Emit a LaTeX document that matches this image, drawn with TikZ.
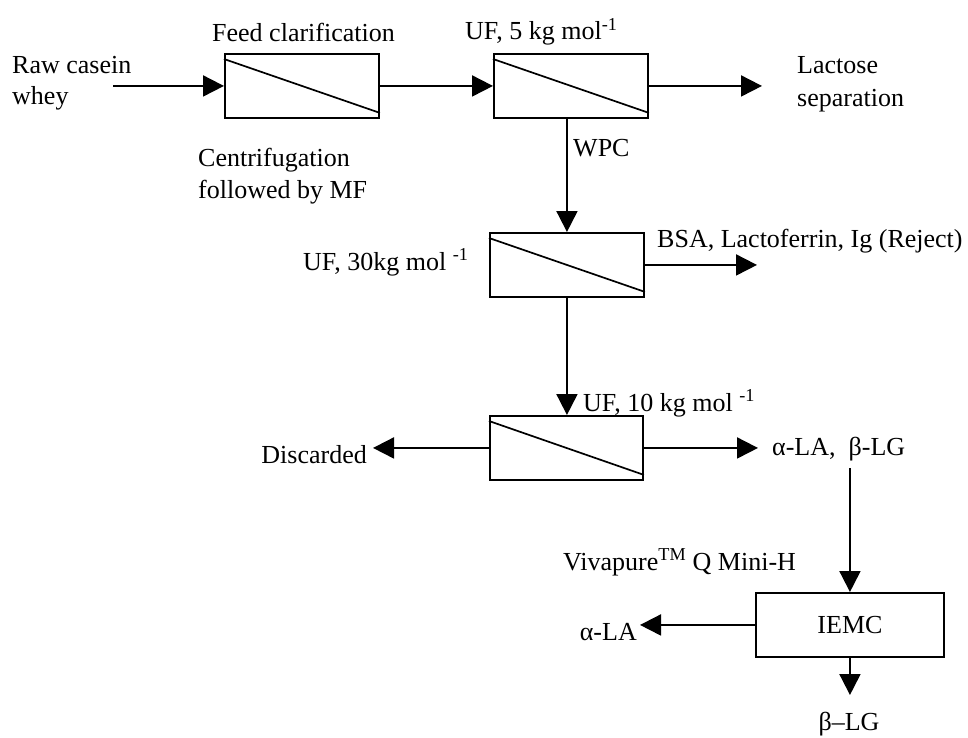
\documentclass[tikz,border=0pt]{standalone}
\usepackage{fontspec}
\setmainfont{Liberation Serif}
\usetikzlibrary{arrows.meta}
\begin{document}
\begin{tikzpicture}[x=1pt,y=-1pt,
  lbl/.style={inner sep=0pt, font=\fontsize{26}{31}\selectfont},
  unit/.style={draw, line width=1.9pt, minimum width=154pt, minimum height=64pt, inner sep=0pt, anchor=north west},
  diag/.style={line width=1.7pt},
  flow/.style={line width=1.9pt, -{Triangle[length=21pt,width=21pt]}},
  ]
\useasboundingbox[fill=white] (0,0) rectangle (968,738);

% units
\node[unit] (b1) at (224,53) {};
\node[unit] (b2) at (493,53) {};
\node[unit] (b3) at (489,232) {};
\node[unit, minimum width=153pt] (b4) at (489,415) {};
\node[unit, minimum width=188pt, font=\fontsize{26}{31}\selectfont] (iemc) at (755,592) {IEMC};

% membrane diagonals
\foreach \b in {b1,b2,b3,b4}
  \draw[diag] ([yshift=-6pt]\b.north west) -- ([yshift=6pt]\b.south east);

% labels
\node[lbl, anchor=base west] (raw1) at (12,74) {Raw casein};
\node[lbl, anchor=base west] (raw2) at (12,105) {whey};
\node[lbl, anchor=base west] (feed) at (212,42) {Feed clarification};
\node[lbl, anchor=base west] (cen1) at (198,167) {Centrifugation};
\node[lbl, anchor=base west] (cen2) at (198,198) {followed by MF};
\node[lbl, anchor=base west] (uf5) at (465,40) {UF, 5 kg mol\textsuperscript{-1}};
\node[lbl, anchor=base west] (lac1) at (797,74) {Lactose};
\node[lbl, anchor=base west] (lac2) at (797,107) {separation};
\node[lbl, anchor=base west] (wpc) at (573,157) {WPC};
\node[lbl, anchor=base west] (bsa) at (657,247) {BSA, Lactoferrin, Ig (Reject)};
\node[lbl, anchor=base west] (uf30) at (303,270) {UF, 30kg mol \textsuperscript{-1}};
\node[lbl, anchor=base west] (uf10) at (583,411) {UF, 10 kg mol \textsuperscript{-1}};
\node[lbl, anchor=base east] (disc) at (367,463) {Discarded};
\node[lbl, anchor=base west] (ab) at (772,455) {α-LA, \ β-LG};
\node[lbl, anchor=base west] (viva) at (563,570) {Vivapure\textsuperscript{TM} Q Mini-H};
\node[lbl, anchor=base east] (ala) at (637,640) {α-LA};
\node[lbl, anchor=base] (blg) at (849,730) {β–LG};

% free ends
\coordinate (in) at (113,86);
\coordinate (lacT) at (762,85);
\coordinate (bsaT) at (757,264);
\coordinate (discT) at (373,447);
\coordinate (abT) at (758,447);
\coordinate (abS) at (849,468);
\coordinate (alaT) at (640,624);
\coordinate (blgT) at (849,695);

% connectors
\draw[flow] (b1.west -| in) -- (b1.west);
\draw[flow] (b1.east) -- (b2.west);
\draw[flow] (b2.east) -- (b2.east -| lacT);
\draw[flow] (b2.south -| b3.north) -- (b3.north);
\draw[flow] (b3.east) -- (b3.east -| bsaT);
\draw[flow] (b3.south) -- (b3.south |- b4.north);
\draw[flow] (b4.west) -- (b4.west -| discT);
\draw[flow] (b4.east) -- (b4.east -| abT);
\draw[flow] (iemc.north |- abS) -- (iemc.north);
\draw[flow] (iemc.west) -- (iemc.west -| alaT);
\draw[flow] (iemc.south) -- (iemc.south |- blgT);
\end{tikzpicture}
\end{document}
